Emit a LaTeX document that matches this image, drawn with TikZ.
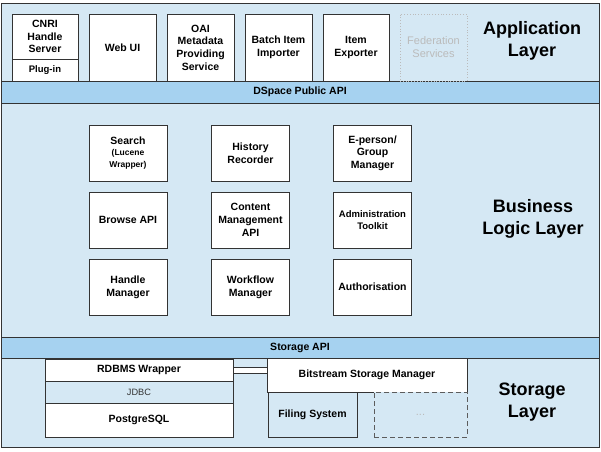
\documentclass[tikz,border=0pt]{standalone}
\usepackage{fontspec}
\setmainfont{Liberation Sans}
\usetikzlibrary{calc}
\definecolor{bg}{HTML}{D5E8F4}
\definecolor{band}{HTML}{A6D2F0}
\definecolor{edge}{HTML}{333333}
\definecolor{faint}{HTML}{BBBBBB}
\newcommand\tinytxt{\fontsize{8.5}{10}\selectfont}
\begin{document}
\begin{tikzpicture}[x=1pt,y=-1pt,
  every node/.style={inner sep=0pt, outer sep=0pt, align=center},
  layer/.style={draw=edge, line width=1pt, fill=bg, minimum width=598pt},
  bandbox/.style={draw=edge, line width=1pt, fill=band, minimum width=598pt,
    font=\fontsize{10.5}{12.7}\selectfont\bfseries},
  comp/.style={draw=edge, line width=0.8pt, fill=white,
    font=\fontsize{10.5}{12.7}\selectfont\bfseries},
  smallcomp/.style={comp, font=\fontsize{9.5}{11.5}\selectfont\bfseries},
  plaincomp/.style={draw=edge, line width=0.8pt, fill=bg,
    font=\fontsize{9.2}{11}\selectfont, text=edge},
  ghost/.style={draw=faint, line width=0.8pt, dotted, fill=bg,
    font=\fontsize{11}{13}\selectfont, text=faint},
  dashbox/.style={draw=edge!80, line width=0.8pt, dash pattern=on 5pt off 3pt, fill=bg,
    font=\fontsize{11}{13}\selectfont, text=faint},
  title/.style={font=\fontsize{18}{22}\selectfont\bfseries, text=black},
  bus/.style={draw=edge, line width=0.8pt, fill=white}
]
\useasboundingbox (0,0) rectangle (601,451);

% layers
\node[layer, minimum height=78pt] (app) at (300,42) {};
\node[layer, minimum height=234pt] (biz) at (300,220) {};
\node[layer, minimum height=89pt] (stor) at (300,402.5) {};
\node[bandbox, minimum height=22pt] (pubapi) at (300,92) {DSpace Public API};
\node[bandbox, minimum height=21pt] (storapi) at (300,347.5) {Storage API};

% application layer
\node[comp, minimum width=66pt, minimum height=45pt] (cnri) at (45,36.5) {CNRI\\Handle\\Server};
\node[smallcomp, minimum width=66pt, minimum height=22pt] (plugin) at (45,70) {Plug-in};
\node[comp, minimum width=67pt, minimum height=67pt] (webui) at (122.5,47.5) {Web UI};
\node[comp, minimum width=67pt, minimum height=67pt] (oai) at (200.5,47.5) {OAI\\Metadata\\Providing\\Service};
\node[comp, minimum width=67pt, minimum height=67pt] (batch) at (278.5,47.5) {Batch Item\\Importer};
\node[comp, minimum width=66pt, minimum height=67pt] (exporter) at (356,47.5) {Item\\Exporter};
\node[ghost, minimum width=67pt, minimum height=67pt] (fed) at (433.5,47.5) {Federation\\Services};
\node[title] (applbl) at (532,41) {Application\\Layer};

% business logic layer
\node[comp, minimum width=78pt, minimum height=56pt] (search) at (128,153)
  {Search\\[-1pt]{\tinytxt (Lucene}\\[-1pt]{\tinytxt Wrapper)}};
\node[comp, minimum width=78pt, minimum height=56pt] (history) at (250.5,153) {History\\Recorder};
\node[comp, minimum width=78pt, minimum height=56pt] (eperson) at (372.5,153) {E-person/\\Group\\Manager};
\node[comp, minimum width=78pt, minimum height=56pt] (browse) at (128,220) {Browse API};
\node[comp, minimum width=78pt, minimum height=56pt] (content) at (250.5,220) {Content\\Management\\API};
\node[smallcomp, minimum width=78pt, minimum height=56pt] (admin) at (372.5,220) {Administration\\Toolkit};
\node[comp, minimum width=78pt, minimum height=56pt] (handle) at (128,287) {Handle\\Manager};
\node[comp, minimum width=78pt, minimum height=56pt] (workflow) at (250.5,287) {Workflow\\Manager};
\node[comp, minimum width=78pt, minimum height=56pt] (authz) at (372.5,287) {Authorisation};
\node[title] (bizlbl) at (533,219) {Business\\Logic Layer};

% storage layer
\node[comp, minimum width=188pt, minimum height=22pt] (rdbms) at (139,370) {RDBMS Wrapper};
\node[plaincomp, minimum width=188pt, minimum height=22pt] (jdbc) at (139,392) {JDBC};
\node[comp, minimum width=188pt, minimum height=34pt] (pg) at (139,420) {PostgreSQL};
\node[comp, minimum width=200pt, minimum height=34pt] (bsm) at (367,375) {Bitstream Storage Manager};
\node[comp, fill=bg, minimum width=89pt, minimum height=45pt] (filing) at (312.5,414.5) {Filing System};
\node[dashbox, minimum width=93pt, minimum height=45pt] (other) at (420.5,414.5) {\raisebox{-2pt}{...}};
\node[title] (storlbl) at (532,402) {Storage\\Layer};

% connector between RDBMS wrapper and bitstream storage manager
\draw[bus] ($(rdbms.north east)+(0,8)$) rectangle ($(bsm.north west)+(0,15)$);
\end{tikzpicture}
\end{document}
